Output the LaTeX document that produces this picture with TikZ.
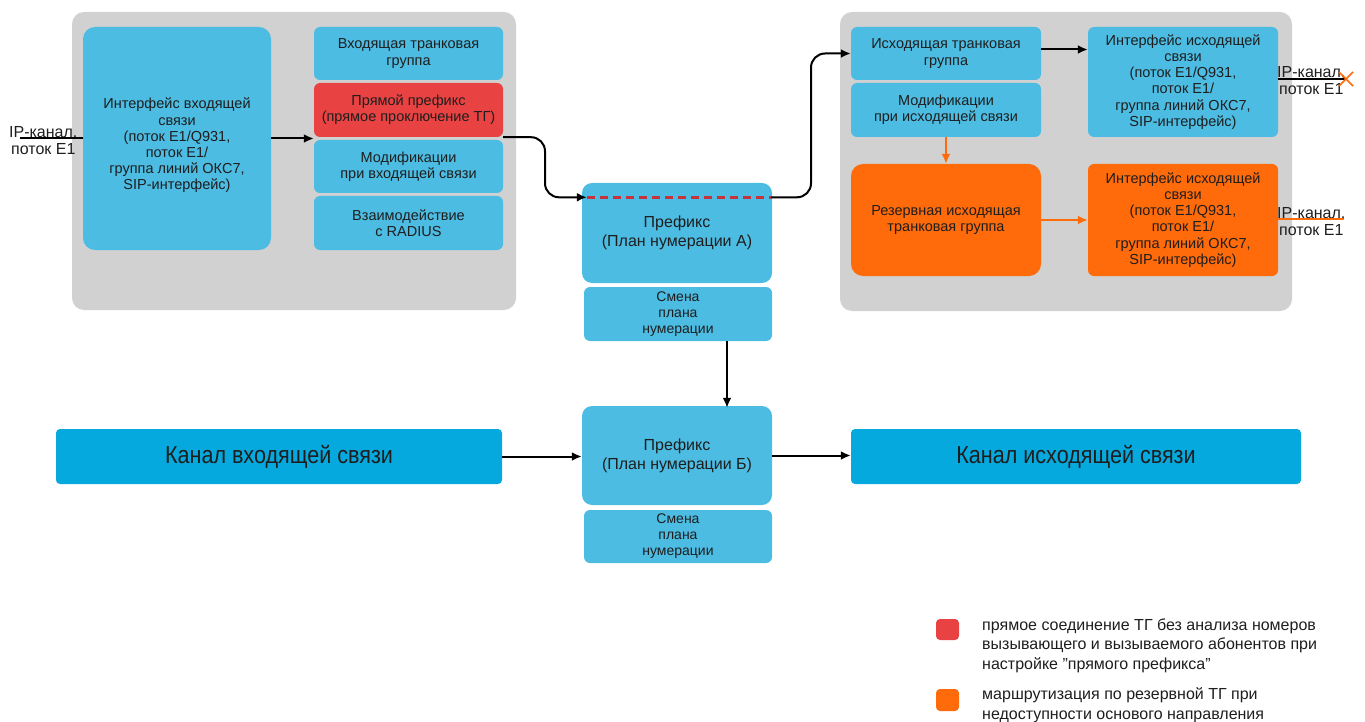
\documentclass[tikz,border=0pt]{standalone}
\usepackage{fontspec}
\setmainfont{Liberation Sans}
\newfontfamily\narrowfont[FakeStretch=0.88]{Liberation Sans}
\usetikzlibrary{arrows.meta,calc}
\definecolor{boxblue}{HTML}{4CBCE2}
\definecolor{chblue}{HTML}{06A9DD}
\definecolor{rbox}{HTML}{E84242}
\definecolor{obox}{HTML}{FF6A0A}
\definecolor{panel}{HTML}{D1D1D1}
\definecolor{txt}{HTML}{1E1E1E}
\definecolor{dashred}{HTML}{C8323A}
\begin{document}
\begin{tikzpicture}[x=1pt,y=-1pt,
  sz/.style 2 args={minimum width=#1pt, minimum height=#2pt},
  box/.style={rounded corners=6pt, fill=boxblue, inner sep=0pt, align=center, text=txt, font=\fontsize{14.5}{16.2}\selectfont},
  boxtxt/.style={inner sep=0pt, align=center, text=txt, font=\fontsize{14.5}{16.2}\selectfont},
  pref/.style={box, rounded corners=10pt, font=\fontsize{16}{19}\selectfont},
  smena/.style={box, font=\fontsize{14}{16}\selectfont},
  chbox/.style={rounded corners=4pt, fill=chblue, inner sep=0pt, text=txt, font=\narrowfont\fontsize{24.5}{27}\selectfont},
  iplab/.style={inner sep=0pt, align=center, text=txt, font=\fontsize{16}{17.5}\selectfont},
  legtxt/.style={inner sep=0pt, align=left, text=txt, font=\fontsize{16}{19.5}\selectfont},
  legsq/.style={rounded corners=4pt, inner sep=0pt},
  arr/.style={draw=black, line width=2pt, -{Latex[length=10pt,width=9pt]}},
  oarr/.style={draw=obox, line width=2pt, -{Latex[length=10pt,width=9pt]}},
  plain/.style={draw=black, line width=2pt},
]
\useasboundingbox (0,0) rectangle (1365,722);

% panels
\fill[panel, rounded corners=12pt] (72,12) rectangle (516,310);
\fill[panel, rounded corners=12pt] (840,12) rectangle (1292,311);

% incoming side
\node[box, sz={188}{223}, rounded corners=12pt] (inif) at (177,138.5) {};
\node[boxtxt] (inift) at ($(inif.center)+(0,7)$) {Интерфейс входящей\\связи\\(поток E1/Q931,\\поток E1/\\группа линий ОКС7,\\SIP-интерфейс)};
\node[box, sz={189}{53}] (intg) at (408.5,53.5) {Входящая транковая\\группа};
\node[box, fill=rbox, sz={189}{54}] (direct) at (408.5,110) {Прямой префикс\\(прямое проключение ТГ)};
\node[box, sz={189}{53}] (inmod) at (408.5,166.5) {Модификации\\при входящей связи};
\node[box, sz={189}{54}] (radius) at (408.5,223) {Взаимодействие\\с RADIUS};

% prefixes
\node[pref, sz={190}{100}] (prefA) at (677,233) {Префикс\\(План нумерации А)};
\node[smena, sz={188}{54}] (smA) at (678,314) {Смена\\плана\\нумерации};
\node[pref, sz={190}{99}] (prefB) at (677,455.5) {Префикс\\(План нумерации Б)};
\node[smena, sz={188}{53}] (smB) at (678,536.5) {Смена\\плана\\нумерации};

% channels
\node[chbox, sz={446}{55}] (chin) at (279,456.5) {Канал входящей связи};
\node[chbox, sz={450}{55}] (chout) at (1076,456.5) {Канал исходящей связи};

% outgoing side
\node[box, sz={190}{53}] (outtg) at (946,53.5) {Исходящая транковая\\группа};
\node[box, sz={190}{54}] (outmod) at (946,110) {Модификации\\при исходящей связи};
\node[box, fill=obox, sz={190}{112}, rounded corners=12pt] (reserve) at (946,220) {Резервная исходящая\\транковая группа};
\node[box, sz={190}{110}] (outif) at (1183,82) {Интерфейс исходящей\\связи\\(поток E1/Q931,\\поток E1/\\группа линий ОКС7,\\SIP-интерфейс)};
\node[box, fill=obox, sz={190}{112}] (outif2) at (1183,220) {Интерфейс исходящей\\связи\\(поток E1/Q931,\\поток E1/\\группа линий ОКС7,\\SIP-интерфейс)};

% IP labels
\node[iplab, anchor=north west] (ipl) at (9,126) {IP-канал,\\поток E1};
\coordinate (ipL) at (20,138.5);
\draw[plain] (ipL) -- (inif.west);

\node[iplab, anchor=north west] (ipr1) at (1277,66) {IP-канал,\\поток E1};
\coordinate (ipR1) at (1346,79);
\draw[plain] (outif.east |- ipR1) -- (ipR1);
\draw[obox, line width=1.6pt] ($(ipR1)+(-7,-7)$) -- ($(ipR1)+(7,7)$) ($(ipR1)+(-7,7)$) -- ($(ipR1)+(7,-7)$);

\node[iplab, anchor=north west] (ipr2) at (1277,207) {IP-канал,\\поток E1};
\coordinate (ipR2) at (1343,219);
\draw[draw=obox, line width=2pt] (outif2.east |- ipR2) -- (ipR2);

% connectors
\draw[arr] (inif.east) -- (inif.east -| direct.west);
\coordinate (dA) at ($(prefA.north west)+(5,14.5)$);
\coordinate (dB) at ($(prefA.north east)+(-1,14.5)$);
\draw[arr, rounded corners=14pt] (direct.south east) -| ($(direct.south east)!.5!(dA)$) |- (dA);
\draw[dashred, line width=2.5pt, dash pattern=on 8pt off 5pt] (dA) -- (dB);
\draw[arr, rounded corners=14pt] (dB) -| ($(dB)!.5!(outtg.west)$) |- (outtg.west);
\draw[arr] ([yshift=4pt]outtg.east) -- ([yshift=4pt]outtg.east -| outif.west);
\draw[oarr] (outmod.south) -- (reserve.north);
\draw[oarr] (reserve.east) -- (outif2.west);
\draw[arr] ($(smA.south)+(49,0)$) -- ($(prefB.north)+(50,2)$);
\draw[arr] (chin.east) -- (chin.east -| prefB.west);
\draw[arr] (prefB.east) -- (prefB.east -| chout.west);

% legend
\node[legsq, fill=rbox, sz={23}{21}] (lr) at (947.5,629.5) {};
\node[legtxt, anchor=north west] (lrt) at (982,618.5) {прямое соединение ТГ без анализа номеров\\вызывающего и вызываемого абонентов при\\настройке \symbol{"22}прямого префикса”};
\node[legsq, fill=obox, sz={23}{22}] (lo) at (947.5,700) {};
\node[legtxt, anchor=north west] (lot) at (982,687.5) {маршрутизация по резервной ТГ при\\недоступности основого направления};
\end{tikzpicture}
\end{document}
